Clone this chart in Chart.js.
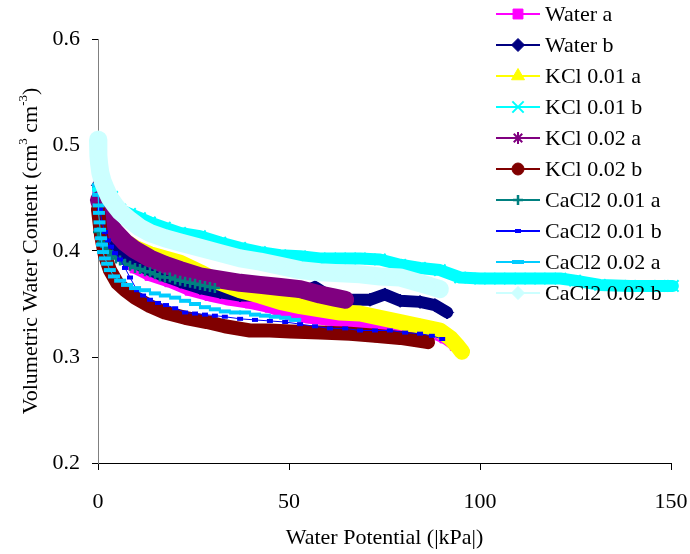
<!DOCTYPE html>
<html>
<head>
<meta charset="utf-8">
<script src="https://cdn.jsdelivr.net/npm/chart.js@4.4.1/dist/chart.umd.min.js"></script>
<style>
html,body{margin:0;padding:0;background:#ffffff;}
#wrap{width:690px;height:554px;position:relative;}
canvas{display:block;}
</style>
</head>
<body>
<div id="wrap"><canvas id="c" width="690" height="554" style="width:690px;height:554px"></canvas></div>
<script>
// ---------- data ----------
const seriesNames = ['Water a','Water b','KCl 0.01 a','KCl 0.01 b','KCl 0.02 a','KCl 0.02 b','CaCl2 0.01 a','CaCl2 0.01 b','CaCl2 0.02 a','CaCl2 0.02 b'];

const xTickValues = [0, 50, 100, 150];
const yTickValues = [0.2, 0.3, 0.4, 0.5, 0.6];
const xAxisTitle = 'Water Potential (|kPa|)';
const yAxisTitleParts = ['Volumetric Water Content (cm', '3', ' cm', '-3', ')'];

const waterA_x = [0,0.79,1.8,3.7,5.8,9.7,13.6,18.8,24.1,29.3,34.6,39.8,45.0,50.3,55.5,60.7,66.0,71.2,76.4,81.7,86.9,90.8,93.5];
const waterA_y = [0.453,0.434,0.420,0.406,0.396,0.384,0.377,0.371,0.363,0.358,0.354,0.351,0.347,0.340,0.337,0.335,0.333,0.331,0.329,0.327,0.324,0.318,0.311];

const waterB_x = [0,0.52,1.6,3.1,5.8,8.4,12.3,16.2,21.5,26.7,32.0,37.2,42.4,47.7,52.9,56.8,60.7,66.0,71.2,75.1,79.1,84.3,88.2,91.4];
const waterB_y = [0.462,0.448,0.425,0.410,0.399,0.392,0.384,0.378,0.371,0.365,0.361,0.358,0.358,0.358,0.360,0.366,0.357,0.354,0.354,0.359,0.353,0.352,0.349,0.342];

const kcl01a_x = [0.26,1.3,3.1,5.8,9.7,13.6,17.5,21.5,26.7,32.0,37.2,42.4,47.7,52.9,58.1,63.4,68.6,73.8,79.1,84.3,89.5,92.2,94.2,95.3];
const kcl01a_y = [0.448,0.434,0.422,0.412,0.403,0.397,0.393,0.389,0.380,0.370,0.363,0.358,0.352,0.348,0.345,0.342,0.341,0.337,0.333,0.329,0.325,0.318,0.310,0.305];

const kcl01b_x = [0,1.8,3.7,5.8,8.4,11.0,13.6,17.5,21.5,26.7,32.0,37.2,42.4,47.7,52.9,58.1,63.4,68.6,73.8,79.1,84.3,89.5,94.8,100.0,105.2,110.5,115.7,121.0,124.9,131.4,139.3,147.1,150.5];
const kcl01b_y = [0.458,0.453,0.451,0.439,0.435,0.431,0.427,0.422,0.417,0.414,0.408,0.403,0.399,0.396,0.395,0.393,0.393,0.393,0.392,0.387,0.384,0.382,0.375,0.374,0.374,0.374,0.374,0.374,0.372,0.368,0.367,0.367,0.367];

const kcl02a_x = [0.26,1.3,2.6,4.5,7.1,9.7,13.6,17.5,21.5,26.7,32.0,37.2,42.4,47.7,52.9,58.1,62.0,64.7];
const kcl02a_y = [0.448,0.437,0.427,0.418,0.408,0.401,0.393,0.387,0.382,0.376,0.373,0.370,0.368,0.366,0.364,0.359,0.356,0.354];

const kcl02b_x = [0,0.79,1.8,3.1,5.0,7.1,9.7,13.6,17.5,22.8,28.5,33.2,39.8,45.0,50.3,58.1,66.0,72.5,79.1,83.0,86.4];
const kcl02b_y = [0.439,0.415,0.396,0.382,0.370,0.363,0.356,0.348,0.342,0.337,0.333,0.329,0.325,0.325,0.324,0.323,0.322,0.320,0.318,0.316,0.314];

const cacl01a_x = [0,0.52,1.05,1.83,2.62,3.67,4.71,5.76,7.07,8.38,9.69,11.0,12.3,13.6,14.9,16.2,17.5,18.8,20.2,21.5,22.8,24.1,25.4,26.7,28.0,29.3,30.6];
const cacl01a_y = [0.418,0.412,0.408,0.404,0.400,0.396,0.393,0.391,0.388,0.386,0.384,0.383,0.381,0.380,0.378,0.376,0.375,0.375,0.373,0.372,0.371,0.370,0.369,0.368,0.367,0.366,0.365];

const cacl01b_x = [0,0.52,1.05,1.83,2.62,3.40,4.45,5.76,7.07,8.38,10.2,11.8,13.6,15.7,17.8,20.2,22.8,25.4,28.0,30.6,33.2,37.2,41.1,45.0,49.0,52.9,56.8,60.7,64.7,68.6,72.5,76.4,80.4,84.3,87.4,90.1];
const cacl01b_y = [0.453,0.439,0.427,0.418,0.410,0.404,0.398,0.392,0.384,0.375,0.363,0.358,0.354,0.351,0.349,0.346,0.342,0.341,0.340,0.339,0.338,0.336,0.335,0.334,0.333,0.331,0.329,0.327,0.327,0.325,0.325,0.325,0.323,0.322,0.320,0.317];

const cacl02a_x = [0,0.05,0.15,0.25,0.4,0.55,0.8,1.05,1.3,1.8,2.4,3.1,4.2,5.8,7.6,9.7,12.3,14.9,17.5,20.2,22.8,25.4,28.0,30.6,33.2,35.9,38.5,41.1,43.7,46.3,49.0,51.6];
const cacl02a_y = [0.462,0.453,0.443,0.436,0.427,0.420,0.412,0.406,0.399,0.393,0.388,0.382,0.376,0.372,0.368,0.365,0.363,0.360,0.358,0.356,0.353,0.350,0.347,0.345,0.343,0.342,0.342,0.340,0.339,0.338,0.337,0.335];

const cacl02b_x = [0,0.05,0.15,0.3,0.6,1.2,2.1,3.1,4.5,5.8,8.4,11.0,13.6,17.5,21.5,26.7,32.0,37.2,42.4,47.7,52.9,58.1,63.4,68.6,73.8,79.1,83.0,86.9,89.5];
const cacl02b_y = [0.505,0.497,0.490,0.482,0.474,0.466,0.458,0.450,0.443,0.437,0.429,0.422,0.417,0.412,0.408,0.403,0.398,0.393,0.390,0.386,0.382,0.380,0.379,0.378,0.376,0.375,0.371,0.367,0.364];

const seriesX = [waterA_x, waterB_x, kcl01a_x, kcl01b_x, kcl02a_x, kcl02b_x, cacl01a_x, cacl01b_x, cacl02a_x, cacl02b_x];
const seriesY = [waterA_y, waterB_y, kcl01a_y, kcl01b_y, kcl02a_y, kcl02b_y, cacl01a_y, cacl01b_y, cacl02a_y, cacl02b_y];

// ---------- styles ----------
const FONT = "'Liberation Serif', 'Times New Roman', serif";
const seriesStyles = [
  {color:'#FF00FF', marker:'rect',     r:7,   lw:12, pbw:1},
  {color:'#000080', marker:'rectRot',  r:6.5, lw:12, pbw:1},
  {color:'#FFFF00', marker:'triangle', r:7.5, lw:16, pbw:1},
  {color:'#00FFFF', marker:'crossRot', r:8,   lw:12, pbw:2},
  {color:'#800080', marker:'star',     r:6,   lw:18, pbw:2},
  {color:'#800000', marker:'circle',   r:6,   lw:14, pbw:1},
  {color:'#008080', marker:'cross',    r:5,   lw:2,  pbw:2.5},
  {color:'#0000FF', marker:'line',     r:3,   lw:1,  pbw:4},
  {color:'#00CCFF', marker:'line',     r:6,   lw:1,  pbw:4},
  {color:'#CCFFFF', marker:'rectRot',  r:6.5, lw:18, pbw:1}
];

const datasets = seriesNames.map((name, i) => {
  const s = seriesStyles[i];
  return {
    label: name,
    data: seriesX[i].map((x, k) => ({x: x, y: seriesY[i][k]})),
    showLine: true,
    borderColor: s.color,
    backgroundColor: s.color,
    borderWidth: s.lw,
    borderJoinStyle: 'round',
    borderCapStyle: 'round',
    pointStyle: s.marker,
    pointRadius: s.r,
    pointHoverRadius: s.r,
    pointBackgroundColor: s.color,
    pointBorderColor: s.color,
    pointBorderWidth: s.pbw,
    tension: 0,
    clip: false,
    order: -i
  };
});

function drawMarker(ctx, style, x, y, r, bw) {
  if (Chart.helpers && Chart.helpers.drawPoint) {
    Chart.helpers.drawPoint(ctx, {pointStyle: style, radius: r, rotation: 0, borderWidth: bw}, x, y);
  } else {
    ctx.beginPath(); ctx.arc(x, y, r, 0, Math.PI * 2); ctx.fill();
  }
}

const legendPlugin = {
  id: 'customLegend',
  afterDraw(chart) {
    const ctx = chart.ctx;
    ctx.save();
    chart.data.datasets.forEach((ds, i) => {
      const s = seriesStyles[i];
      const y = 14 + i * 31.0;
      ctx.strokeStyle = s.color;
      ctx.lineWidth = 2;
      ctx.beginPath(); ctx.moveTo(496, y); ctx.lineTo(540, y); ctx.stroke();
      ctx.fillStyle = s.color;
      ctx.strokeStyle = s.color;
      ctx.lineWidth = s.pbw;
      drawMarker(ctx, s.marker, 518, y, s.r, s.pbw);
      ctx.fillStyle = '#000000';
      ctx.font = '22px ' + FONT;
      ctx.textAlign = 'left';
      ctx.textBaseline = 'middle';
      ctx.fillText(ds.label, 545, y + 1);
    });
    ctx.restore();
  }
};

const yTitlePlugin = {
  id: 'yTitle',
  afterDraw(chart) {
    const ctx = chart.ctx;
    const area = chart.chartArea;
    ctx.save();
    const mainFont = '22px ' + FONT;
    const supFont = '13px ' + FONT;
    const parts = yAxisTitleParts.map((t, i) => ({t: t, sup: i % 2 === 1}));
    let total = 0;
    parts.forEach(p => { ctx.font = p.sup ? supFont : mainFont; p.w = ctx.measureText(p.t).width; total += p.w; });
    ctx.translate(29, (area.top + area.bottom) / 2);
    ctx.rotate(-Math.PI / 2);
    ctx.fillStyle = '#000000';
    ctx.textBaseline = 'alphabetic';
    ctx.textAlign = 'left';
    let u = -total / 2;
    parts.forEach(p => {
      ctx.font = p.sup ? supFont : mainFont;
      ctx.fillText(p.t, u, p.sup ? -2 : 8);
      u += p.w;
    });
    ctx.restore();
  }
};

const whiteBg = {
  id: 'whiteBg',
  beforeDraw(chart) {
    const ctx = chart.ctx;
    ctx.save(); ctx.fillStyle = '#ffffff'; ctx.fillRect(0, 0, chart.width, chart.height); ctx.restore();
  }
};

Chart.defaults.font.family = FONT;
Chart.defaults.font.size = 22;
Chart.defaults.color = '#000000';

new Chart(document.getElementById('c'), {
  type: 'scatter',
  data: {datasets: datasets},
  options: {
    responsive: false,
    devicePixelRatio: 1,
    animation: false,
    events: [],
    layout: {padding: {left: 0, top: 39, right: 19, bottom: 0}},
    plugins: {legend: {display: false}, tooltip: {enabled: false}, title: {display: false}},
    scales: {
      x: {
        type: 'linear', position: 'bottom', min: 0, max: 150,
        afterFit(scale) { scale.height = 91; scale.paddingRight = 0; scale.paddingLeft = 0; },
        afterBuildTicks(scale) { scale.ticks = xTickValues.map(v => ({value: v})); },
        ticks: {font: {size: 22, family: FONT}, color: '#000000', padding: 19, maxRotation: 0, callback: v => String(v)},
        grid: {drawOnChartArea: false, drawTicks: true, tickLength: 7, tickColor: '#000000', tickWidth: 1},
        border: {display: true, color: '#000000', width: 1},
        title: {display: true, text: xAxisTitle, font: {size: 22, family: FONT}, color: '#000000', padding: {top: 3, bottom: 3}}
      },
      y: {
        type: 'linear', min: 0.2, max: 0.6,
        afterFit(scale) { scale.width = 98; scale.paddingTop = 0; scale.paddingBottom = 0; },
        afterBuildTicks(scale) { scale.ticks = yTickValues.map(v => ({value: v})); },
        ticks: {font: {size: 22, family: FONT}, color: '#000000', padding: 12, callback: v => Number(v).toFixed(1)},
        grid: {drawOnChartArea: false, drawTicks: true, tickLength: 6, tickColor: '#000000', tickWidth: 1},
        border: {display: true, color: '#808080', width: 1}
      }
    }
  },
  plugins: [whiteBg, yTitlePlugin, legendPlugin]
});
</script>
</body>
</html>
